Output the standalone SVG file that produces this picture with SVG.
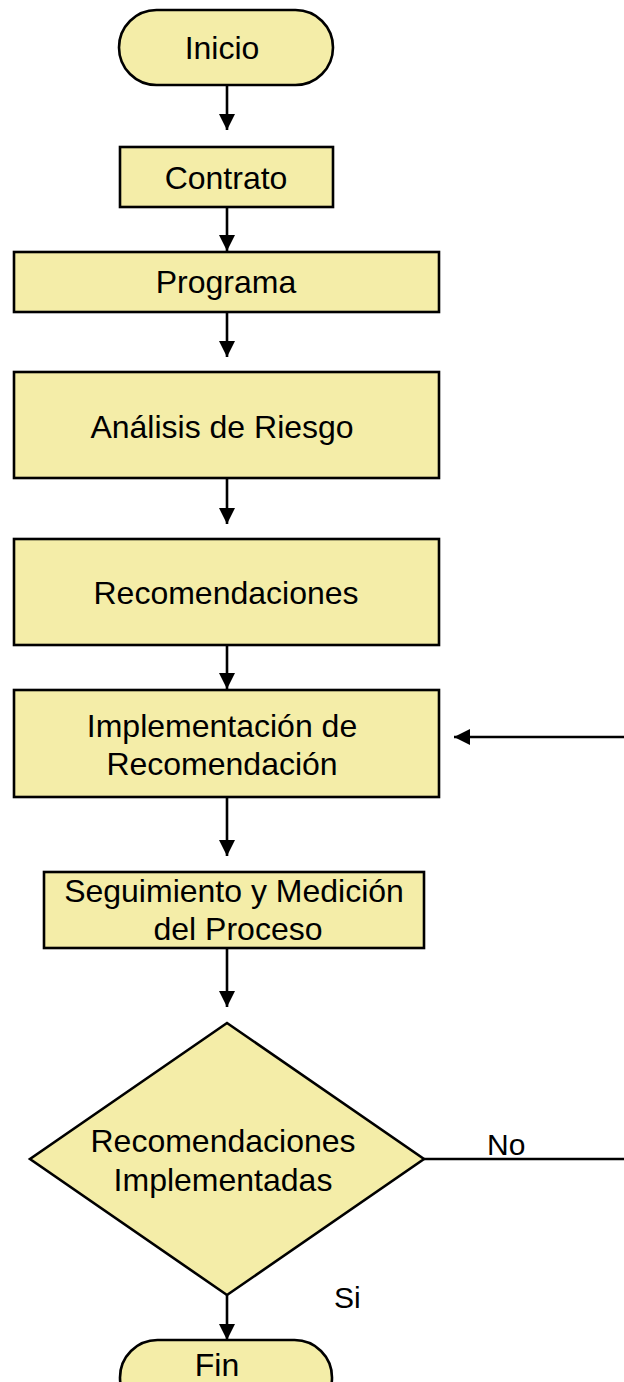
<svg xmlns="http://www.w3.org/2000/svg" width="624" height="1382" viewBox="0 0 624 1382">
<defs>
<style>
.box{fill:#F4EDA8;stroke:#000;stroke-width:2.6}
.t{font-family:"Liberation Sans",Arial,sans-serif;font-size:32px;fill:#000;text-anchor:middle}
.lbl{font-family:"Liberation Sans",Arial,sans-serif;font-size:30px;fill:#000}
.c{stroke:#000;stroke-width:2.6;fill:none}
</style>
<marker id="ah" viewBox="0 0 16 16" refX="16" refY="8" markerWidth="16" markerHeight="16" markerUnits="userSpaceOnUse" orient="auto">
<path d="M0,0 L16,8 L0,16 Z" fill="#000"/>
</marker>
</defs>
<rect width="624" height="1382" fill="#fff"/>
<g id="connectors">
<line class="c" x1="227" y1="85" x2="227" y2="130" marker-end="url(#ah)"/>
<line class="c" x1="227" y1="207" x2="227" y2="251" marker-end="url(#ah)"/>
<line class="c" x1="227" y1="312" x2="227" y2="357" marker-end="url(#ah)"/>
<line class="c" x1="227" y1="478" x2="227" y2="524" marker-end="url(#ah)"/>
<line class="c" x1="227" y1="645" x2="227" y2="689" marker-end="url(#ah)"/>
<line class="c" x1="227" y1="797" x2="227" y2="856" marker-end="url(#ah)"/>
<line class="c" x1="227" y1="948" x2="227" y2="1007" marker-end="url(#ah)"/>
<line class="c" x1="227" y1="1295" x2="227" y2="1340" marker-end="url(#ah)"/>
<line class="c" x1="424" y1="1159" x2="626" y2="1159"/>
<line class="c" x1="626" y1="737" x2="454" y2="737" marker-end="url(#ah)"/>
<text class="lbl" x="487" y="1155">No</text>
<text class="lbl" x="334" y="1308">Si</text>
</g>
<g id="inicio">
<rect class="box" x="119" y="10" width="214" height="75" rx="37.5" ry="37.5"/>
<text class="t" x="222" y="59">Inicio</text>
</g>
<g id="contrato">
<rect class="box" x="120" y="147" width="213" height="60"/>
<text class="t" x="226" y="189">Contrato</text>
</g>
<g id="programa">
<rect class="box" x="14" y="252" width="425" height="60"/>
<text class="t" x="226" y="293">Programa</text>
</g>
<g id="analisis">
<rect class="box" x="14" y="372" width="425" height="106"/>
<text class="t" x="222" y="438">Análisis de Riesgo</text>
</g>
<g id="recomendaciones">
<rect class="box" x="14" y="539" width="425" height="106"/>
<text class="t" x="226" y="604">Recomendaciones</text>
</g>
<g id="implementacion">
<rect class="box" x="14" y="690" width="425" height="107"/>
<text class="t" x="222" y="737">Implementación de</text>
<text class="t" x="222" y="775">Recomendación</text>
</g>
<g id="seguimiento">
<rect class="box" x="44" y="872" width="380" height="76"/>
<text class="t" x="234" y="902">Seguimiento y Medición</text>
<text class="t" x="238" y="940">del Proceso</text>
</g>
<g id="decision">
<polygon class="box" points="227,1023 424,1159 227,1295 30,1159"/>
<text class="t" x="223" y="1152">Recomendaciones</text>
<text class="t" x="223" y="1191">Implementadas</text>
</g>
<g id="fin">
<rect class="box" x="120" y="1340" width="212" height="75" rx="37.5" ry="37.5"/>
<text class="t" x="217" y="1376">Fin</text>
</g>
</svg>
